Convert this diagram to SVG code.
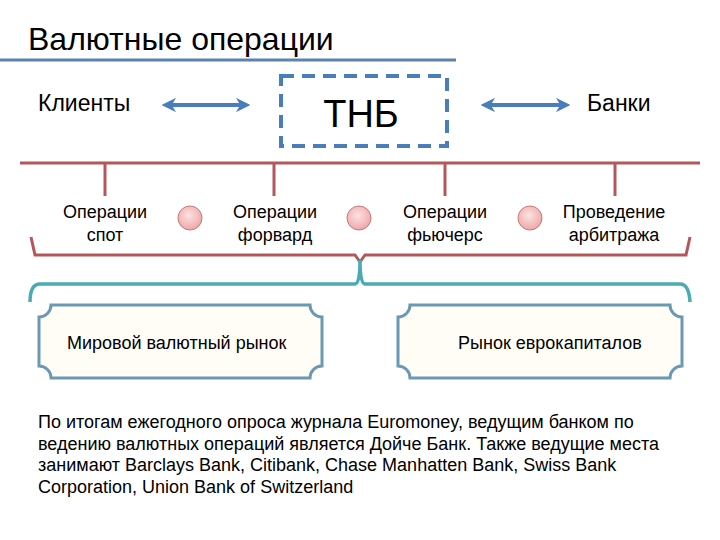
<svg xmlns="http://www.w3.org/2000/svg" width="720" height="540" viewBox="0 0 720 540">
<defs>
<style>
text{font-family:"Liberation Sans",Arial,sans-serif;fill:#000}
.lbl{font-size:18px;text-anchor:middle}
.side{font-size:23px}
.para{font-size:18px}
.arrow{stroke:#4a7ebb;stroke-width:4;fill:none;marker-start:url(#ah);marker-end:url(#ah)}
.tick{stroke:#b5565a;stroke-width:3;fill:none}
.dot{fill:url(#pink);stroke:#c47a7a;stroke-width:1}
.box{fill:#fffdf6;stroke:#6a9ab3;stroke-width:3}
</style>
<marker id="ah" viewBox="0 0 10 10" refX="7" refY="5" markerWidth="3.6" markerHeight="3.6" orient="auto-start-reverse">
<path d="M0,0 L10,5 L0,10 L3,5 Z" fill="#4a7ebb"/>
</marker>
<radialGradient id="pink" cx="0.45" cy="0.4" r="0.65">
<stop offset="0" stop-color="#fbe2e2"/>
<stop offset="1" stop-color="#eea3a3"/>
</radialGradient>
</defs>
<rect width="720" height="540" fill="#fff"/>

<g id="title">
<text x="28" y="50" font-size="32">Валютные операции</text>
<line x1="0" y1="60" x2="456" y2="60" stroke="#5a84ad" stroke-width="3"/>
</g>

<g id="clients"><text class="side" x="38" y="111">Клиенты</text></g>
<g id="tnb">
<rect x="281" y="76" width="166" height="70" fill="none" stroke="#4a7ebb" stroke-width="4" stroke-dasharray="13 8"/>
<text x="361" y="127" font-size="38" text-anchor="middle">ТНБ</text>
</g>
<g id="banks"><text class="side" x="587" y="111" font-size="24">Банки</text></g>

<g id="connectors">
<line class="arrow" x1="166" y1="105" x2="246" y2="105"/>
<line class="arrow" x1="485" y1="105" x2="566" y2="105"/>
<line class="tick" x1="20" y1="163" x2="700" y2="163"/>
<line class="tick" x1="105" y1="163" x2="105" y2="196"/>
<line class="tick" x1="274" y1="163" x2="274" y2="196"/>
<line class="tick" x1="445" y1="163" x2="445" y2="196"/>
<line class="tick" x1="615" y1="163" x2="615" y2="196"/>
<path class="tick" d="M31,237 L35,255 H355 L360,262 L365,255 H686 L690,237"/>
<path d="M30,302 Q30,284 40,284 H355 Q360,284 360,260 Q360,284 365,284 H680 Q689,284 690,302" fill="none" stroke="#4aabb5" stroke-width="3.5"/>
</g>

<g id="op-spot"><text class="lbl" x="105" y="218">Операции</text><text class="lbl" x="105" y="241">спот</text></g>
<g id="dot1"><circle class="dot" cx="190" cy="218" r="12"/></g>
<g id="op-forward"><text class="lbl" x="275" y="218">Операции</text><text class="lbl" x="275" y="241">форвард</text></g>
<g id="dot2"><circle class="dot" cx="359" cy="218" r="12"/></g>
<g id="op-futures"><text class="lbl" x="445" y="218">Операции</text><text class="lbl" x="445" y="241">фьючерс</text></g>
<g id="dot3"><circle class="dot" cx="530" cy="218" r="12"/></g>
<g id="arbitrage"><text class="lbl" x="614" y="218">Проведение</text><text class="lbl" x="614" y="241">арбитража</text></g>

<g id="world-market">
<path class="box" d="M51,305 H310 A12 12 0 0 0 322,317 V366 A12 12 0 0 0 310,378 H51 A12 12 0 0 0 39,366 V317 A12 12 0 0 0 51,305 Z"/>
<text x="67" y="349" font-size="18">Мировой валютный рынок</text>
</g>
<g id="euro-market">
<path class="box" d="M410,305 H670 A12 12 0 0 0 682,317 V366 A12 12 0 0 0 670,378 H410 A12 12 0 0 0 398,366 V317 A12 12 0 0 0 410,305 Z"/>
<text x="458" y="349" font-size="18">Рынок еврокапиталов</text>
</g>

<g id="note">
<text class="para" x="38" y="428">По итогам ежегодного опроса журнала Euromoney, ведущим банком по</text>
<text class="para" x="38" y="450">ведению валютных операций является Дойче Банк. Также ведущие места</text>
<text class="para" x="38" y="471">занимают Barclays Bank, Citibank, Chase Manhatten Bank, Swiss Bank</text>
<text class="para" x="38" y="493">Corporation, Union Bank of Switzerland</text>
</g>
</svg>
